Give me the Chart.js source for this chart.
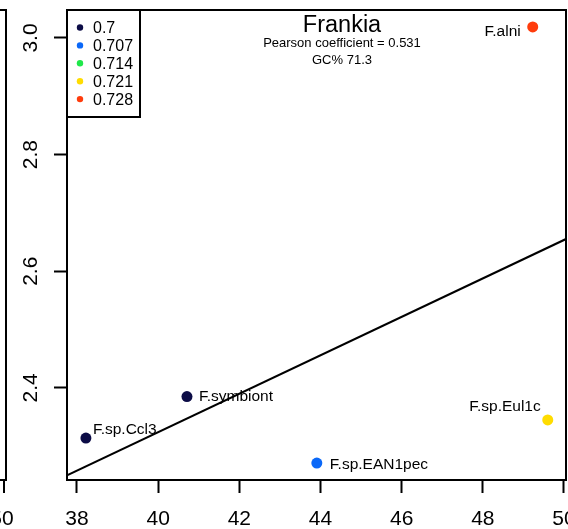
<!DOCTYPE html>
<html>
<head>
<meta charset="utf-8">
<script src="https://cdn.jsdelivr.net/npm/chart.js@4.4.0/dist/chart.umd.min.js"></script>
<style>
  html, body { margin: 0; padding: 0; background: #fff; }
</style>
</head>
<body>
<canvas id="myChart" width="568" height="529"></canvas>
<script>
// Datos de la gráfica
const genomes = ['F.alni', 'F.symbiont', 'F.sp.Ccl3', 'F.sp.EAN1pec', 'F.sp.Eul1c'];
const xValues = [49.23, 40.71, 38.22, 43.91, 49.60];
const yValues = [3.019, 2.385, 2.314, 2.271, 2.345];
const gcGroup = [4, 0, 0, 1, 3]; // índice en gcLevels
const gcLevels = ['0.7', '0.707', '0.714', '0.721', '0.728'];
const gcColors = ['#0c0c46', '#0a68f8', '#1fe84a', '#ffdc00', '#ff3c0c'];
const xTicks = [38, 40, 42, 44, 46, 48, 50];
const yTicks = [2.4, 2.6, 2.8, 3.0];
const titleText = 'Frankia';
const subLines = ['Pearson coefficient = 0.531', 'GC% 71.3'];

// Posición de las etiquetas de cada punto (estilo, no datos)
const labelPos = {
  'F.alni':       { align: 'right', dx: -12, dy: 4 },
  'F.symbiont':   { align: 'left',  dx: 12,  dy: -1 },
  'F.sp.Ccl3':    { align: 'left',  dx: 7,   dy: -10 },
  'F.sp.EAN1pec': { align: 'left',  dx: 13,  dy: 0 },
  'F.sp.Eul1c':   { align: 'right', dx: -7,  dy: -14 }
};

const FONT = "'Liberation Sans', Arial, Helvetica, sans-serif";

// Recta de regresión (mínimos cuadrados)
const n = xValues.length;
const mx = xValues.reduce((a, b) => a + b, 0) / n;
const my = yValues.reduce((a, b) => a + b, 0) / n;
let sxy = 0, sxx = 0;
for (let i = 0; i < n; i++) {
  sxy += (xValues[i] - mx) * (yValues[i] - my);
  sxx += (xValues[i] - mx) ** 2;
}
const slope = sxy / sxx;
const intercept = my - slope * mx;

const xMin = 37.754, xMax = 50.05;
const yMin = 2.242, yMax = 3.048;

const decor = {
  id: 'decor',
  afterDatasetsDraw(chart) {
    const c = chart.ctx;
    const a = chart.chartArea;
    const xs = chart.scales.x, ys = chart.scales.y;
    c.save();
    c.fillStyle = '#000';
    c.strokeStyle = '#000';

    // etiquetas de los puntos
    c.font = '15.5px ' + FONT;
    c.textBaseline = 'alphabetic';
    genomes.forEach((g, i) => {
      const p = labelPos[g];
      c.textAlign = p.align;
      c.fillText(g, xs.getPixelForValue(xValues[i]) + p.dx, ys.getPixelForValue(yValues[i]) + p.dy + 5.5);
    });

    // caja del gráfico
    c.lineWidth = 2;
    c.strokeRect(a.left, a.top, a.right - a.left, a.bottom - a.top);

    // leyenda
    const lx = a.left, ly = a.top;
    c.fillStyle = '#fff';
    c.fillRect(lx, ly, 73, 107);
    c.strokeRect(lx, ly, 73, 107);
    c.font = '16px ' + FONT;
    c.textAlign = 'left';
    gcLevels.forEach((lv, i) => {
      const cy = ly + 17.5 + i * 17.9;
      c.fillStyle = gcColors[i];
      c.beginPath();
      c.arc(lx + 13, cy, 3.2, 0, Math.PI * 2);
      c.fill();
      c.fillStyle = '#000';
      c.fillText(lv, lx + 26, cy + 5.8);
    });

    // título y subtítulos
    const tx = xs.getPixelForValue(44.53);
    c.textAlign = 'center';
    c.font = '23.5px ' + FONT;
    c.fillText(titleText, tx, a.top + 21.5);
    c.font = '13px ' + FONT;
    c.fillText(subLines[0], tx, a.top + 37.3);
    c.fillText(subLines[1], tx, a.top + 54);

    // etiquetas de los ejes
    c.font = '21px ' + FONT;
    xTicks.forEach(v => {
      c.fillText(String(v), xs.getPixelForValue(v), a.bottom + 45);
    });
    yTicks.forEach(v => {
      c.save();
      c.translate(a.left - 30.3, ys.getPixelForValue(v));
      c.rotate(-Math.PI / 2);
      c.fillText(v.toFixed(1), 0, 0);
      c.restore();
    });

    // borde del panel vecino (recortado)
    const nx = a.left - 61;
    c.beginPath();
    c.moveTo(0, a.top); c.lineTo(nx, a.top); c.lineTo(nx, a.bottom); c.lineTo(0, a.bottom);
    c.moveTo(nx - 2, a.bottom); c.lineTo(nx - 2, a.bottom + 13);
    c.stroke();
    c.fillText('50', nx - 4, a.bottom + 45);
    c.restore();
  }
};

const ctx = document.getElementById('myChart').getContext('2d');
const myChart = new Chart(ctx, {
  data: {
    datasets: [{
      type: 'scatter',
      data: xValues.map((x, i) => ({ x: x, y: yValues[i] })),
      pointRadius: 5.5,
      pointBorderWidth: 0,
      pointBackgroundColor: gcGroup.map(g => gcColors[g]),
      order: 0
    }, {
      type: 'line',
      data: [xMin, xMax].map(x => ({ x: x, y: intercept + slope * x })),
      borderColor: '#000',
      borderWidth: 2,
      pointRadius: 0,
      order: 1
    }]
  },
  plugins: [decor],
  options: {
    responsive: false,
    animation: false,
    devicePixelRatio: 1,
    layout: { autoPadding: false, padding: { left: 0, right: 2, top: 10, bottom: 0 } },
    plugins: { legend: { display: false }, tooltip: { enabled: false } },
    scales: {
      x: {
        type: 'linear', min: xMin, max: xMax,
        afterBuildTicks: s => { s.ticks = xTicks.map(v => ({ value: v })); },
        afterFit: s => { s.height = 49; },
        ticks: { display: false },
        border: { display: false },
        grid: { drawOnChartArea: false, drawTicks: true, tickLength: 13, tickColor: '#000', tickWidth: 2 }
      },
      y: {
        type: 'linear', min: yMin, max: yMax,
        afterBuildTicks: s => { s.ticks = yTicks.map(v => ({ value: v })); },
        afterFit: s => { s.width = 67; },
        ticks: { display: false },
        border: { display: false },
        grid: { drawOnChartArea: false, drawTicks: true, tickLength: 13, tickColor: '#000', tickWidth: 2 }
      }
    }
  }
});
</script>
</body>
</html>
